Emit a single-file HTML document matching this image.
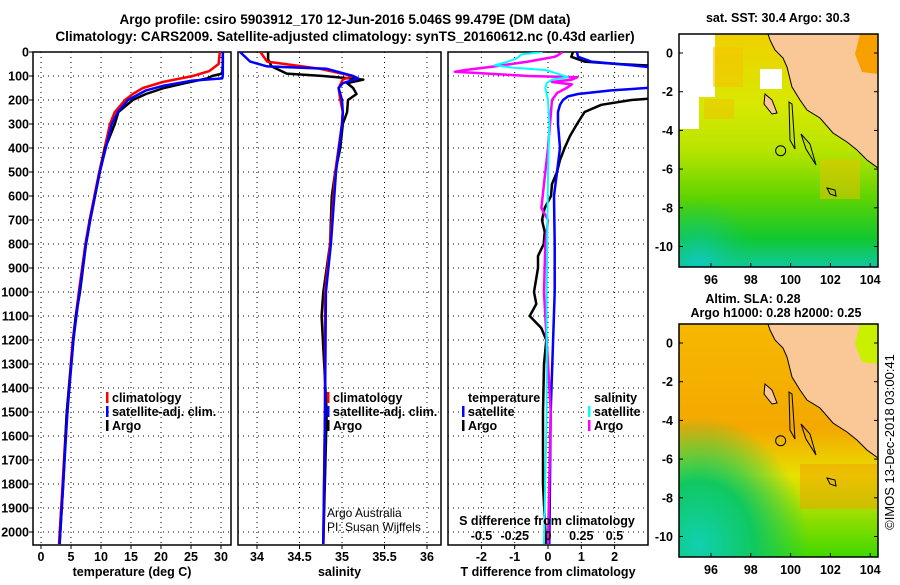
<!DOCTYPE html>
<html><head><meta charset="utf-8"><style>
body{margin:0;background:#fff;}
svg{font-family:"Liberation Sans",sans-serif;font-weight:bold;font-size:12.5px;}
</style></head><body>
<svg id="s" width="900" height="580" viewBox="0 0 900 580">
<defs>
<clipPath id="c1"><rect x="33" y="52" width="198" height="493"/></clipPath>
<clipPath id="c2"><rect x="238" y="52" width="203" height="493"/></clipPath>
<clipPath id="c3"><rect x="448" y="52" width="200" height="493"/></clipPath>
<clipPath id="cm1"><rect x="679" y="34" width="199" height="233"/></clipPath>
<clipPath id="cm2"><rect x="679" y="324" width="199" height="233"/></clipPath>
<linearGradient id="gsst" x1="0" y1="0" x2="0" y2="1">
<stop offset="0" stop-color="#f0d000"/><stop offset="0.3" stop-color="#d8e800"/><stop offset="0.5" stop-color="#b8e400"/><stop offset="0.7" stop-color="#60d400"/><stop offset="0.88" stop-color="#10c830"/><stop offset="1" stop-color="#10c8a0"/></linearGradient>
<linearGradient id="gsla" x1="0" y1="0" x2="0" y2="1">
<stop offset="0" stop-color="#f6b800"/><stop offset="0.45" stop-color="#f4a800"/><stop offset="0.65" stop-color="#e8e000"/><stop offset="0.8" stop-color="#a0e000"/><stop offset="1" stop-color="#40d800"/></linearGradient>
<radialGradient id="gteal" cx="0.1" cy="0.95" r="0.55"><stop offset="0" stop-color="#10d0b0"/><stop offset="0.5" stop-color="#10c860"/><stop offset="1" stop-color="#10c860" stop-opacity="0"/></radialGradient>
<radialGradient id="gteal2" cx="0.1" cy="1" r="0.3"><stop offset="0" stop-color="#10c8c0"/><stop offset="1" stop-color="#10c860" stop-opacity="0"/></radialGradient>
</defs>
<g id="root"></g>
<text x="345" y="24" text-anchor="middle" font-size="13.5">Argo profile: csiro 5903912_170 12-Jun-2016 5.046S 99.479E (DM data)</text>
<text x="345" y="41" text-anchor="middle" font-size="13.5">Climatology: CARS2009. Satellite-adjusted climatology: synTS_20160612.nc (0.43d earlier)</text>
</svg>
<script>
// ---- data ----
const depthTicks=[0,100,200,300,400,500,600,700,800,900,1000,1100,1200,1300,1400,1500,1600,1700,1800,1900,2000];
const tTicks=[0,5,10,15,20,25,30];
const sTicks=[34,34.5,35,35.5,36];
const sTickLabels=["34","34.5","35","35.5","36"];
const dTTicks=[-2,-1,0,1,2];
const dSTicks=[-0.5,-0.25,0,0.25,0.5];
const dSTickLabels=["-0.5","-0.25","0","0.25","0.5"];

const tArgoD=[0,50,90,100,110,130,150,175,200,250,300,400,500,600,700,800,1000,1100,1200,1500,1800,2050];
const tArgoV=[30.3,30.3,30.2,28.5,27.7,24,20.5,17.5,15.3,12.9,12.3,10.7,9.8,9,8.2,7.5,6.5,5.8,5.4,4.3,3.7,3.1];
const tClimD=[0,50,80,100,125,150,175,200,250,300,400,500,600,700,800,1000,1200,1500,1800,2050];
const tClimV=[29.8,29.6,28,25.3,20.3,17,15.3,14,12.3,11.5,10.6,9.7,8.9,8.1,7.4,6.3,5.3,4.3,3.6,3.0];
const tSatD=[0,50,100,110,120,140,160,200,250,300,400,500,600,700,800,1000,1200,1500,1800,2050];
const tSatV=[30.3,30.3,30.3,30.2,25,20.5,17.5,14.5,12.8,11.8,10.8,9.8,9,8.2,7.5,6.4,5.4,4.4,3.7,3.1];

const sArgoD=[0,30,60,90,100,115,130,150,175,200,250,300,400,500,600,700,800,1000,1100,1500,2050];
const sArgoV=[34.13,34.13,34.17,34.35,34.78,35.25,35.06,35.13,35.17,35.07,35.06,35.01,34.98,34.92,34.88,34.87,34.86,34.78,34.76,34.82,34.78];
const sClimD=[0,40,70,100,115,150,200,250,300,500,800,1000,1500,2050];
const sClimV=[34.04,34.12,34.74,35.13,35.01,34.96,34.98,35.01,35.0,34.92,34.86,34.8,34.8,34.78];
const sSatD=[0,40,60,70,100,110,130,150,200,250,300,500,800,1000,1500,2050];
const sSatV=[33.8,33.92,34.12,34.82,35.13,35.19,35.01,34.96,35.0,35.01,35.0,34.93,34.87,34.81,34.8,34.78];

const dtArgoD=[0,20,40,50,60,190,200,220,250,300,350,400,450,500,550,600,650,700,750,800,850,900,1000,1050,1100,1150,1200,1300,1500,1800,2050];
const dtArgoV=[0.75,0.7,1.1,2.1,3.5,3.5,2.5,1.6,1.1,0.87,0.66,0.5,0.36,0.27,0.12,0.09,-0.1,-0.18,-0.1,-0.13,-0.3,-0.3,-0.42,-0.35,-0.55,-0.2,-0.05,-0.12,-0.15,-0.15,-0.06];
const dtSatD=[0,20,40,55,70,145,160,175,185,200,220,250,300,400,500,600,800,1000,1500,2050];
const dtSatV=[0.87,0.9,1.3,2.5,3.5,3.5,1.9,0.9,0.6,0.45,0.36,0.3,0.3,0.36,0.27,0.18,0.2,0.2,0.08,0.04];
const dsArgoD=[0,15,20,40,60,75,82,90,100,105,115,125,135,150,170,200,300,400,500,650,700,800,1000,1100,1500,2050];
const dsArgoV=[0.11,0.07,0.05,-0.15,-0.4,-0.62,-0.7,-0.45,-0.15,0.22,0.18,0.03,0.18,0.14,0.07,0.03,0.015,0,-0.02,-0.05,0,-0.02,-0.03,-0.02,0.02,0.0];
const dsSatD=[0,10,25,40,55,65,75,90,105,115,130,150,200,300,500,1000,1500,2050];
const dsSatV=[-0.04,-0.2,-0.23,-0.3,-0.4,-0.27,-0.02,0.07,0.15,0.03,-0.01,-0.02,0,0.01,0,-0.01,-0.01,-0.03];

// ---- scales ----
const yD=d=>52+d*0.24;
const xT=v=>41+v*6;
const xS=v=>257+(v-34)*85;
const xDT=v=>548+v*33.3;
const xDS=v=>548+v*133;
const NS='http://www.w3.org/2000/svg';
const root=document.getElementById('root');
function el(tag,attrs,parent,txt){const e=document.createElementNS(NS,tag);for(const k in attrs)e.setAttribute(k,attrs[k]);if(txt!==undefined)e.textContent=txt;(parent||root).appendChild(e);return e;}

function panel(x0,x1,name,xticks,xfn,labels,title,clip){
  const g=el('g',{});
  
  
  depthTicks.forEach(d=>{const l=el('line',{x1:x0,x2:x1,y1:yD(d),y2:yD(d),stroke:'#000','stroke-dasharray':'1,4','stroke-width':1},g);
    });
  xticks.forEach((v,i)=>{const x=xfn(v);const l=el('line',{x1:x,x2:x,y1:52,y2:545,stroke:'#000','stroke-dasharray':'1,4'},g);
    
    el('line',{x1:x,x2:x,y1:545,y2:549,stroke:'#000'},g);
    if(labels){const t=el('text',{x:x,y:561,'text-anchor':'middle'},g,labels[i]);}
  });
  el('rect',{x:x0,y:52,width:x1-x0,height:493,fill:'none',stroke:'#000','stroke-width':1.5},g);
  if(title){const t=el('text',{x:(x0+x1)/2,y:576,'text-anchor':'middle'},g,title);}
  const lg=el('g',{'clip-path':'url(#'+clip+')'},g);
  return lg;
}
function line(g,D,V,xfn,color,w,name){
  const pts=D.map((d,i)=>xfn(V[i]).toFixed(1)+','+yD(d).toFixed(1)).join(' ');
  const p=el('polyline',{points:pts,fill:'none',stroke:color,'stroke-width':w,'stroke-linejoin':'round'},g);
  
  
}
depthTicks.forEach(d=>{const t=el('text',{x:29,y:yD(d)+4.5,'text-anchor':'end'},root,String(d));
  
  el('line',{x1:29,x2:33,y1:yD(d),y2:yD(d),stroke:'#000'});});

const g1=panel(33,231,'temperature-panel',tTicks,xT,tTicks.map(String),'temperature (deg C)','c1');
line(g1,tClimD,tClimV,xT,'#f00',2.5,'temperature-climatology-line');
line(g1,tArgoD,tArgoV,xT,'#000',2.5,'temperature-argo-line');
line(g1,tSatD,tSatV,xT,'#00f',2.5,'temperature-satellite-line');
const g2=panel(238,441,'salinity-panel',sTicks,xS,sTickLabels,'salinity','c2');
line(g2,sArgoD,sArgoV,xS,'#000',2.5,'salinity-argo-line');
line(g2,sClimD,sClimV,xS,'#f00',2.5,'salinity-climatology-line');
line(g2,sSatD,sSatV,xS,'#00f',2.5,'salinity-satellite-line');
const g3=panel(448,648,'difference-panel',dTTicks,xDT,dTTicks.map(String),'T difference from climatology','c3');
line(g3,dtArgoD,dtArgoV,xDT,'#000',2.5,'t-diff-argo-line');
line(g3,dtSatD,dtSatV,xDT,'#00f',2.5,'t-diff-satellite-line');
line(g3,dsArgoD,dsArgoV,xDS,'#f0f',2.5,'s-diff-argo-line');
line(g3,dsSatD,dsSatV,xDS,'#0ff',2,'s-diff-satellite-line');
dSTicks.forEach((v,i)=>{const t=el('text',{x:xDS(v),y:540,'text-anchor':'middle'},root,dSTickLabels[i]);
  });
{const t=el('text',{x:547,y:525,'text-anchor':'middle'},root,'S difference from climatology');}

function legend(x,y,color,label,name){
  const g=el('g',{});
  
  
  if(color)el('rect',{x:x-6,y:y-10,width:2.5,height:11,fill:color},g);
  el('text',{x:x,y:y},g,label);
}
legend(112,402,'#f00','climatology','legend-temp-climatology');
legend(112,416,'#00f','satellite-adj. clim.','legend-temp-satellite');
legend(112,430,'#000','Argo','legend-temp-argo');
legend(333,402,'#f00','climatology','legend-sal-climatology');
legend(333,416,'#00f','satellite-adj. clim.','legend-sal-satellite');
legend(333,430,'#000','Argo','legend-sal-argo');
legend(468,402,null,'temperature','legend-temperature-header');
legend(468,416,'#00f','satellite','legend-tdiff-satellite');
legend(468,430,'#000','Argo','legend-tdiff-argo');
legend(594,402,null,'salinity','legend-salinity-header');
legend(594,416,'#0ff','satellite','legend-sdiff-satellite');
legend(594,430,'#f0f','Argo','legend-sdiff-argo');
{const t=el('text',{x:327,y:517,'font-weight':'normal','font-size':'12'},root,'Argo Australia');
 const u=el('text',{x:327,y:531,'font-weight':'normal','font-size':'12'},root,'PI: Susan Wijffels');}

// ---- maps ----
const latTicks=[0,-2,-4,-6,-8,-10];
const lonTicks=[96,98,100,102,104];
function map(y0,name,title1,title2,fill,clip,sst){
  const g=el('g',{});
  
  
  const lonX=v=>711+(v-96)*19.9, latY=v=>y0+19+(-v)*19.35;
  const c=el('g',{'clip-path':'url(#'+clip+')'},g);
  el('rect',{x:679,y:y0,width:199,height:233,fill:fill},c);
  el('rect',{x:679,y:y0,width:199,height:233,fill:sst?'url(#gteal2)':'url(#gteal)'},c);
  if(sst){
    el('rect',{x:679,y:y0,width:36,height:63,fill:'#fff'},c);
    el('rect',{x:679,y:y0,width:20,height:95,fill:'#fff'},c);
    el('rect',{x:713,y:y0+13,width:30,height:40,fill:'#f4c400',opacity:0.6},c);
    el('rect',{x:704,y:y0+65,width:30,height:20,fill:'#f0c000',opacity:0.5},c);
    el('rect',{x:820,y:y0+125,width:40,height:40,fill:'#f0c000',opacity:0.5},c);
    el('rect',{x:760,y:y0+35,width:22,height:20,fill:'#fff'},c);
  } else {
    el('rect',{x:800,y:y0+140,width:78,height:45,fill:'#f0a000',opacity:0.5},c);
  }
  const coast=[[768,0],[770,6],[775,16],[783,24],[787,33],[792,53],[800,66],[807,76],[820,84],[833,99],[847,108],[857,116],[867,126],[878,134],[878,0]];
  el('polygon',{points:coast.map(p=>p[0]+','+(y0+p[1])).join(' '),fill:'#f9c896',stroke:'#000','stroke-width':1},c);
  el('polygon',{points:[[860,0],[878,0],[878,40],[862,38],[855,20]].map(p=>p[0]+','+(y0+p[1])).join(' '),fill:sst?'#f8a000':'#c8f000'},c);
  el('polygon',{points:[[765,60],[772,66],[777,79],[772,80],[764,70]].map(p=>p[0]+','+(y0+p[1])).join(' '),fill:'#f9c896',stroke:'#000'},c);
  el('polygon',{points:[[789,68],[792,70],[795,115],[790,106]].map(p=>p[0]+','+(y0+p[1])).join(' '),fill:'none',stroke:'#000'},c);
  el('polygon',{points:[[801,100],[810,110],[816,131],[806,115]].map(p=>p[0]+','+(y0+p[1])).join(' '),fill:'none',stroke:'#000'},c);
  el('polygon',{points:[[827,154],[835,156],[836,162],[830,160]].map(p=>p[0]+','+(y0+p[1])).join(' '),fill:'none',stroke:'#000'},c);
  el('circle',{cx:lonX(99.5),cy:latY(-5.05),r:5,fill:'none',stroke:'#000'},c);
  el('rect',{x:679,y:y0,width:199,height:233,fill:'none',stroke:'#000','stroke-width':1.5},g);
  latTicks.forEach(v=>{el('line',{x1:679,x2:683,y1:latY(v),y2:latY(v),stroke:'#000'},g);el('line',{x1:874,x2:878,y1:latY(v),y2:latY(v),stroke:'#000'},g);
    const t=el('text',{x:673,y:latY(v)+4.5,'text-anchor':'end'},g,String(v));});
  lonTicks.forEach(v=>{el('line',{x1:lonX(v),x2:lonX(v),y1:y0+229,y2:y0+233,stroke:'#000'},g);
    const t=el('text',{x:lonX(v),y:y0+250,'text-anchor':'middle'},g,String(v));});
  const a=el('text',{x:title2?753:778,y:y0-(title2?21:12),'text-anchor':'middle'},g,title1);
  if(title2){const b=el('text',{x:776,y:y0-7,'text-anchor':'middle'},g,title2);}
}
map(34,'sst-map','sat. SST: 30.4 Argo: 30.3',null,'url(#gsst)','cm1',true);
map(324,'sla-map','Altim. SLA: 0.28','Argo h1000: 0.28 h2000: 0.25','url(#gsla)','cm2',false);
{const t=el('text',{x:0,y:0,transform:'translate(894,442) rotate(-90)','text-anchor':'middle','font-weight':'normal','font-size':'13'},root,'©IMOS 13-Dec-2018 03:00:41');
 }
</script>
</body></html>
